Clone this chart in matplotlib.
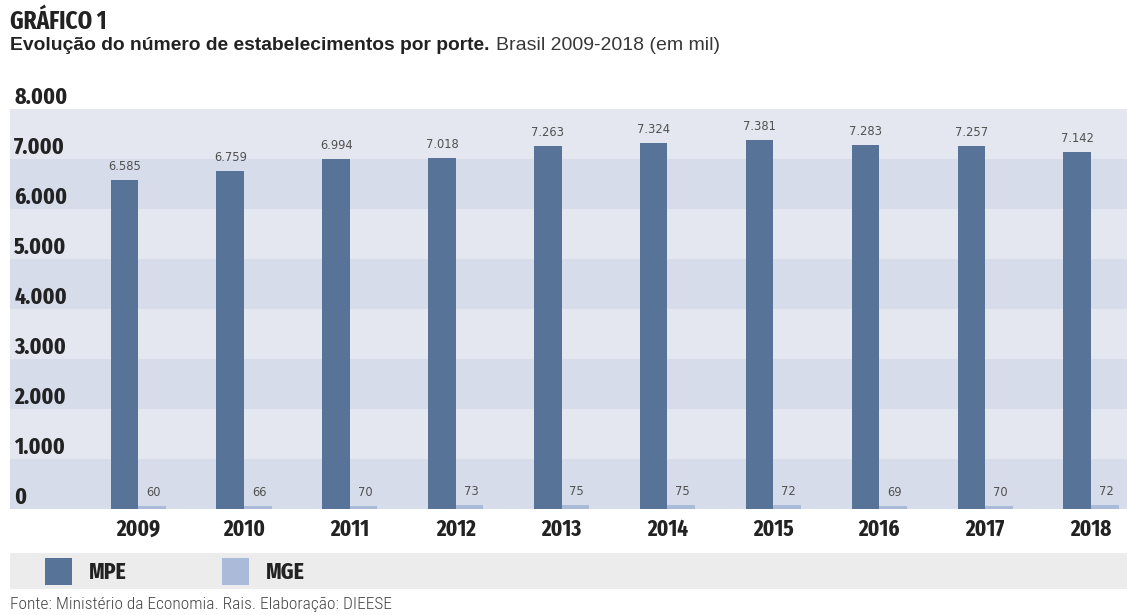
import matplotlib
matplotlib.use("Agg")
import matplotlib.pyplot as plt
from matplotlib.patches import Rectangle

years = ["2009", "2010", "2011", "2012", "2013", "2014", "2015", "2016", "2017", "2018"]
mpe = [6585, 6759, 6994, 7018, 7263, 7324, 7381, 7283, 7257, 7142]
mge = [60, 66, 70, 73, 75, 75, 72, 69, 70, 72]
yticks = [0, 1000, 2000, 3000, 4000, 5000, 6000, 7000, 8000]
ytick_labels = ["0", "1.000", "2.000", "3.000", "4.000", "5.000", "6.000", "7.000", "8.000"]
series_names = ["MPE", "MGE"]

C_MPE = "#587398"
C_MGE = "#a9bbd8"
BAND_DARK = "#d6dce9"
BAND_LIGHT = "#e4e7f0"
HEAVY = ["Fira Sans Extra Condensed", "DejaVu Sans"]
COND = ["Roboto Condensed", "DejaVu Sans"]
ARIAL = ["Liberation Sans", "DejaVu Sans"]


def fmt(v):
    return "{:,}".format(v).replace(",", ".")


def fit_width(txt, target_px):
    # scale a text so its rendered width matches target_px
    w = txt.get_window_extent(renderer=fig.canvas.get_renderer()).width
    txt.set_fontsize(txt.get_fontsize() * target_px / w)


W, H = 1127, 615
fig = plt.figure(figsize=(W / 100, H / 100), dpi=100)

# axes: x 10..1127 px, y 109..509 px
ax = fig.add_axes([10 / W, (H - 509) / H, 1117 / W, 400 / H])
ax.set_xlim(-1.21, 9.34)
ax.set_ylim(0, 8000)

# alternating bands
for i in range(len(yticks) - 1):
    ax.axhspan(yticks[i], yticks[i + 1], color=BAND_DARK if i % 2 == 0 else BAND_LIGHT,
               lw=0, zorder=0)

bw = 0.26
x = list(range(len(years)))
ax.bar([k - bw / 2 for k in x], mpe, width=bw, color=C_MPE, zorder=2)
ax.bar([k + bw / 2 for k in x], mge, width=bw, color=C_MGE, zorder=2)

for k in x:
    ax.annotate(fmt(mpe[k]), (k - bw / 2, mpe[k]), xytext=(0, 5), textcoords="offset points",
                ha="center", va="bottom", fontsize=8.3, color="#505050")
    ax.annotate(fmt(mge[k]), (k + bw / 2, mge[k]), xytext=(1, 5), textcoords="offset points",
                ha="center", va="bottom", fontsize=8.3, color="#505050")

ax.set_yticks(yticks)
ax.set_yticklabels(ytick_labels, family=HEAVY, fontweight="bold", fontsize=17, color="#222222")
ax.tick_params(axis="y", length=0, pad=-3)
for lab in ax.get_yticklabels():
    lab.set_ha("left")
    lab.set_va("bottom")

ax.set_xticks(x)
ax.set_xticklabels(years, family=HEAVY, fontweight="bold", fontsize=16.5, color="#222222")
ax.tick_params(axis="x", length=0, pad=6)
for s in ax.spines.values():
    s.set_visible(False)

# titles
fig.text(10 / W, 1 - 9 / H, "GRÁFICO 1", family=HEAVY, fontweight="bold", fontsize=18,
         color="#222222", va="top")
t1 = fig.text(10 / W, 1 - 50 / H, "Evolução do número de estabelecimentos por porte.",
              family=ARIAL, fontweight="bold", fontsize=13, color="#222222", va="baseline")
fit_width(t1, 480)
bb = t1.get_window_extent(renderer=fig.canvas.get_renderer())
fig.text((bb.x1 + 6) / W, 1 - 50 / H, "Brasil 2009-2018 (em mil)", family=ARIAL,
         fontsize=14, color="#383838", va="baseline")

# legend band
fig.add_artist(Rectangle((10 / W, (H - 589) / H), 1117 / W, 36 / H, transform=fig.transFigure,
                         color="#ececec", lw=0))
for name, col, x0 in zip(series_names, [C_MPE, C_MGE], [45, 222]):
    fig.add_artist(Rectangle((x0 / W, (H - 585) / H), 27 / W, 27 / H, transform=fig.transFigure,
                             color=col, lw=0))
    fig.text((x0 + 44) / W, (H - 572) / H, name, family=HEAVY, fontweight="bold",
             fontsize=17, color="#222222", va="center")

ft = fig.text(10 / W, 1 - 597 / H, "Fonte: Ministério da Economia. Rais. Elaboração: DIEESE",
              family=COND, fontweight="light", fontsize=12, color="#444444", va="top")
fit_width(ft, 380)

fig.savefig("out.png", dpi=100)
